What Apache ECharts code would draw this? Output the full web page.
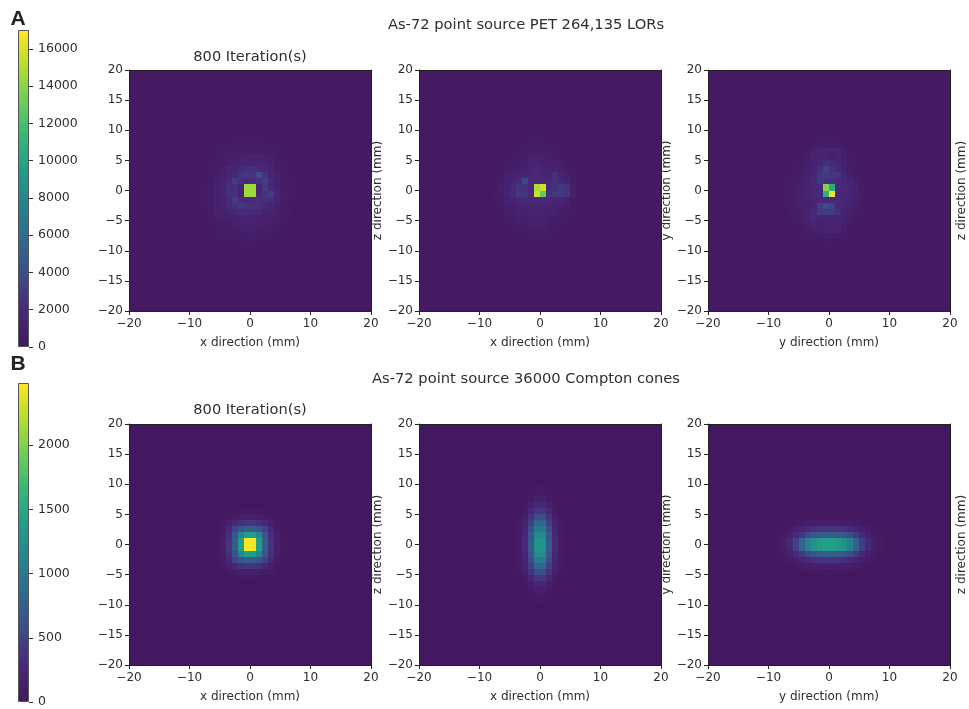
<!DOCTYPE html>
<html><head><meta charset="utf-8">
<style>html,body{margin:0;padding:0;background:#fff}#c{width:969px;height:709px}</style>
<script src="https://cdn.jsdelivr.net/npm/echarts@6/dist/echarts.min.js"></script>
</head><body><div id="c"></div>
<script>
const viridis=['#44175e','#482878','#3e4a89','#31688e','#26828e','#1f9e89','#35b779','#6ece58','#b5de2b','#fde725'];
const rangeA=[0,17020], rangeB=[0,2484];
const ticksA=[0,2000,4000,6000,8000,10000,12000,14000,16000];
const ticksB=[0,500,1000,1500,2000];
const backgroundA=280, backgroundB=20;
const titleA='As-72 point source PET 264,135 LORs';
const titleB='As-72 point source 36000 Compton cones';
const iterationTitle='800 Iteration(s)';

// central windows, top row first; everything outside them is the background value
const petXY=[
[280,300,280,290,320,280,340,300,380,430,360,420,380,300,290,280,300,280,280,280],
[290,280,320,340,290,400,430,510,440,600,440,560,450,390,340,290,320,280,290,280],
[280,310,360,300,460,510,660,600,650,560,760,660,610,500,660,400,300,320,280,280],
[300,290,350,460,500,560,700,760,800,750,700,760,860,650,600,450,410,300,310,280],
[310,360,400,500,610,700,800,960,1060,1160,1260,1360,1060,960,650,500,400,360,300,280],
[290,350,470,550,650,760,960,1260,1360,1460,1560,1660,1460,1060,760,550,470,350,320,280],
[320,360,450,610,750,960,1560,1660,1960,2360,2360,2060,1960,1460,860,650,450,400,300,290],
[300,400,470,650,860,1160,1460,1860,2560,2660,2560,3860,2560,1660,1060,760,510,400,320,280],
[360,410,500,660,960,1260,1760,2960,2460,1960,2160,2460,3160,1960,1060,760,560,410,300,290],
[350,420,510,700,1060,1460,2360,2260,1460,14500,14500,1460,2860,1760,1160,760,560,400,320,280],
[370,400,520,710,1060,1460,2460,2460,1460,14500,14500,1560,2560,3060,1360,860,560,420,300,290],
[310,410,500,760,1060,1260,1960,3060,2160,1960,2060,2160,2260,2160,1260,760,550,400,320,280],
[320,360,510,700,1060,1360,1860,2360,2860,2560,2460,2360,1960,1560,1060,760,500,420,300,280],
[290,360,500,750,1300,1160,1460,1660,1960,2060,1960,1760,1460,1260,960,700,510,360,320,280],
[300,350,460,660,860,960,1160,1260,1460,1360,1460,1260,1160,1060,860,650,460,360,290,290],
[280,320,400,500,660,760,860,1060,1260,1160,1260,1060,960,860,700,500,400,300,280,280],
[290,300,360,460,500,600,760,860,960,960,1060,860,760,700,550,460,350,310,290,280],
[280,290,300,350,460,510,550,660,700,760,700,660,600,500,450,360,300,280,280,280],
[280,300,310,290,350,400,450,500,550,500,560,500,450,400,350,290,310,280,280,280],
[280,280,290,310,280,350,340,400,390,450,400,350,340,300,290,280,290,280,280,280]];

const petXZ=[
[280,280,290,280,300,320,290,360,400,420,380,360,300,290,280,300,280,280,280,280],
[280,290,280,310,300,290,360,460,500,560,500,450,350,310,300,280,290,280,280,280],
[280,300,290,320,290,360,450,500,600,660,610,560,450,400,310,290,300,280,280,280],
[280,290,320,300,360,410,600,660,760,860,760,660,560,450,360,300,280,290,280,280],
[290,280,310,360,400,510,660,760,1060,1160,1060,860,760,560,400,350,300,290,280,280],
[280,320,300,400,500,660,760,960,1260,1360,1260,1060,960,760,500,400,310,280,290,280],
[300,310,360,450,660,810,960,1260,1460,1860,1460,1360,1260,1060,660,450,360,300,280,280],
[290,320,400,560,810,1060,1360,1660,1660,1760,1560,1560,2160,1460,960,560,400,320,290,280],
[320,360,460,760,1060,1460,1860,3560,1960,1660,1860,1960,2260,1960,1260,700,460,360,300,280],
[310,370,500,860,1260,1860,2560,2360,1860,14800,15800,2060,2460,2760,2560,960,500,360,310,280],
[320,360,510,860,1360,1960,2860,2760,2060,15800,12800,2160,2760,2860,2660,1060,510,370,300,290],
[300,370,460,760,1160,1460,1760,2060,1960,1860,1960,1860,1760,1660,1260,760,450,360,320,280],
[290,310,400,610,860,1160,1260,1460,1660,1460,1660,1460,1260,1160,860,560,400,310,290,280],
[280,320,360,500,760,860,1060,1060,1360,1460,1360,1060,1060,760,610,450,360,300,280,280],
[290,280,300,400,560,760,960,960,1260,1160,1260,960,760,660,500,400,310,290,280,280],
[280,290,310,360,450,560,760,860,1060,1060,1160,760,660,560,400,310,300,280,290,280],
[280,280,290,300,360,460,560,660,860,860,860,660,560,450,360,300,290,280,280,280],
[280,290,280,310,300,360,450,500,600,660,610,500,450,360,310,290,280,290,280,280],
[280,280,290,280,310,300,360,400,460,500,450,400,360,300,290,280,280,280,280,280],
[280,280,280,290,280,300,310,320,360,400,350,320,300,290,280,290,280,280,280,280]];

const petYZ=[
[280,280,290,280,300,310,300,360,400,460,400,360,350,310,280,290,280,280,280,280],
[280,290,280,300,310,290,360,460,560,610,560,450,400,310,300,290,280,280,280,280],
[290,280,300,310,290,360,450,610,760,760,810,660,500,400,310,290,300,280,280,280],
[280,300,290,310,360,450,610,1060,1460,1560,1460,1460,860,500,360,300,280,290,280,280],
[300,280,320,360,400,500,700,1360,1560,1460,960,1560,960,550,400,300,310,280,280,280],
[290,310,300,400,500,600,810,1460,1760,2160,1860,1660,1160,660,450,360,300,290,280,280],
[300,320,360,450,560,760,1060,1460,2160,3400,2460,1760,1260,760,500,360,310,280,290,280],
[280,310,360,500,660,860,1160,1660,2560,2860,2660,2660,1560,860,600,400,300,290,280,280],
[310,320,400,560,760,960,1260,1860,2860,2460,2260,1860,1660,1360,700,450,360,300,290,280],
[320,360,460,660,860,1160,1460,1760,1960,13800,10600,1860,1760,1460,1060,560,360,310,280,280],
[310,360,450,660,960,1260,1560,1760,1960,10800,16600,1960,1760,1560,1160,610,400,300,290,280],
[320,350,460,610,860,1160,1460,1660,1860,1860,1960,1860,1660,1460,960,560,360,310,280,280],
[290,320,400,610,760,1060,1260,1560,3060,3760,3260,1760,1560,1260,810,460,360,300,290,280],
[300,310,360,560,700,960,1360,1860,2960,2960,2860,2360,1460,960,660,400,310,290,280,280],
[280,320,360,460,660,960,1260,1860,1560,1560,1460,1460,1060,810,500,360,300,280,290,280],
[290,280,310,400,500,760,1060,1360,1260,1260,1360,1360,860,610,400,310,290,280,280,280],
[280,290,310,360,450,560,760,960,1060,1260,1360,1360,810,460,360,300,280,290,280,280],
[280,280,290,310,360,450,560,660,760,810,760,660,500,400,310,290,280,280,280,280],
[280,280,280,290,310,360,400,450,500,560,500,450,400,310,290,280,290,280,280,280],
[280,280,280,280,290,310,300,360,400,400,400,360,300,290,280,280,280,280,280,280]];

const comptonXY=[
[20,22,28,35,45,55,55,45,35,28,22,20],
[22,30,60,95,125,140,140,125,95,60,30,22],
[28,60,140,260,340,370,370,340,260,140,60,28],
[35,95,260,500,650,720,720,650,500,260,95,35],
[45,125,340,650,1130,1380,1380,1130,650,340,125,45],
[55,140,370,720,1380,2470,2470,1380,720,370,140,55],
[55,140,370,720,1380,2470,2470,1380,720,370,140,55],
[45,125,340,650,1130,1380,1380,1130,650,340,125,45],
[35,95,260,500,650,720,720,650,500,260,95,35],
[28,60,140,260,340,370,370,340,260,140,60,28],
[22,30,60,95,125,140,140,125,95,60,30,22],
[20,22,28,35,45,55,55,45,35,28,22,20]];

const comptonXZ=[
[20,20,22,30,45,45,30,22,20,20],
[20,22,28,50,85,85,50,28,22,20],
[20,24,40,90,150,150,90,40,24,20],
[22,30,65,150,250,250,150,65,30,22],
[24,40,100,240,400,400,240,100,40,24],
[28,55,140,350,590,590,350,140,55,28],
[30,70,190,470,810,810,470,190,70,30],
[32,85,230,580,1020,1020,580,230,85,32],
[35,95,260,660,1200,1200,660,260,95,35],
[36,100,270,700,1290,1290,700,270,100,36],
[36,100,270,700,1290,1290,700,270,100,36],
[35,95,260,660,1200,1200,660,260,95,35],
[32,85,230,580,1020,1020,580,230,85,32],
[30,70,190,470,810,810,470,190,70,30],
[28,55,140,350,590,590,350,140,55,28],
[24,40,100,240,400,400,240,100,40,24],
[22,30,65,150,250,250,150,65,30,22],
[20,24,40,90,150,150,90,40,24,20],
[20,22,28,50,85,85,50,28,22,20],
[20,20,22,30,45,45,30,22,20,20]];

const comptonYZ=[
[20,20,22,24,26,30,34,36,38,38,38,38,36,34,30,26,24,22,20,20],
[20,24,30,40,60,85,110,125,135,140,140,135,125,110,85,60,40,30,24,20],
[22,30,50,90,150,230,300,340,365,370,370,365,340,300,230,150,90,50,30,22],
[26,42,80,160,270,430,570,650,700,715,715,700,650,570,430,270,160,80,42,26],
[32,65,135,270,470,780,1080,1260,1360,1400,1400,1360,1260,1080,780,470,270,135,65,32],
[32,65,135,270,470,780,1080,1260,1360,1400,1400,1360,1260,1080,780,470,270,135,65,32],
[26,42,80,160,270,430,570,650,700,715,715,700,650,570,430,270,160,80,42,26],
[22,30,50,90,150,230,300,340,365,370,370,365,340,300,230,150,90,50,30,22],
[20,24,30,40,60,85,110,125,135,140,140,135,125,110,85,60,40,30,24,20],
[20,20,22,24,26,30,34,36,38,38,38,38,36,34,30,26,24,22,20,20]];

// one cell per millimetre bin: [left edge, lower edge, value]
function cells(rows,bg){
  const nr=rows.length,nc=rows[0].length,y0=20-nr/2,x0=20-nc/2,out=[];
  for(let y=0;y<40;y++)for(let x=0;x<40;x++){
    const inside=y>=y0&&y<y0+nr&&x>=x0&&x<x0+nc;
    out.push([x-20,y-20,inside?rows[nr-1-(y-y0)][x-x0]:bg]);
  }
  return out;
}

function drawCell(params,api){
  const x=api.value(0),y=api.value(1);
  const a=api.coord([x,y]),b=api.coord([x+1,y+1]);
  const x0=Math.round(a[0]),x1=Math.round(b[0]),y0=Math.round(a[1]),y1=Math.round(b[1]);
  return {type:'rect',shape:{x:x0,y:y1,width:x1-x0,height:y0-y1},style:{fill:api.visual('color')}};
}

const ink='#2e2e2e';
const font='"DejaVu Sans"';
const minus=v=>String(v).replace('-','\u2212');
const frame={lineStyle:{color:'#222',width:1}};
const nameStyle={color:ink,fontFamily:font,fontSize:12};
const grid=[],xAxis=[],yAxis=[],series=[];

function panel(left,top,rows,bg,xName,yName,rightName){
  const g=grid.length;
  grid.push({left,top,width:242,height:241});
  const xi=xAxis.length, yi=yAxis.length;
  xAxis.push({type:'value',gridIndex:g,min:-20,max:20,interval:10,position:'bottom',z:5,
    name:xName,nameLocation:'middle',nameGap:26,nameTextStyle:nameStyle,
    axisLine:{onZero:false,...frame},axisTick:{length:4,lineStyle:{color:'#222'}},splitLine:{show:false},
    axisLabel:{color:ink,fontFamily:font,fontSize:12,margin:7,formatter:minus,showMinLabel:true,showMaxLabel:true}});
  xAxis.push({type:'value',gridIndex:g,min:-20,max:20,interval:10,position:'top',z:5,
    axisLine:{onZero:false,...frame},axisTick:{show:false},axisLabel:{show:false},splitLine:{show:false}});
  yAxis.push({type:'value',gridIndex:g,min:-20,max:20,interval:5,position:'left',z:5,
    name:yName||'',nameLocation:'middle',nameGap:26,nameRotate:90,nameTextStyle:nameStyle,
    axisLine:{onZero:false,...frame},axisTick:{length:4,lineStyle:{color:'#222'}},splitLine:{show:false},
    axisLabel:{color:ink,fontFamily:font,fontSize:12,margin:6,formatter:minus,showMinLabel:true,showMaxLabel:true}});
  yAxis.push({type:'value',gridIndex:g,min:-20,max:20,interval:5,position:'right',z:5,
    name:rightName||'',nameLocation:'middle',nameGap:6,nameRotate:90,nameTextStyle:nameStyle,
    axisLine:{onZero:false,...frame},axisTick:{show:false},axisLabel:{show:false},splitLine:{show:false}});
  series.push({type:'custom',xAxisIndex:xi,yAxisIndex:yi,data:cells(rows,bg),renderItem:drawCell,
    encode:{x:0,y:1},silent:true,animation:false,progressive:0});
}

function colorbar(top,height,range,ticks){
  const g=grid.length;
  grid.push({left:18,top,width:11,height});
  xAxis.push({type:'category',gridIndex:g,data:[''],show:false});
  yAxis.push({type:'value',gridIndex:g,min:range[0],max:range[1],position:'right',z:5,
    axisLine:{show:false},splitLine:{show:false},
    axisTick:{show:true,length:4,customValues:ticks,lineStyle:{color:'#333'}},
    axisLabel:{color:ink,fontFamily:font,fontSize:12.5,margin:9,customValues:ticks,formatter:v=>String(v)}});
  const stops=viridis.map((c,i)=>({offset:i/(viridis.length-1),color:c}));
  series.push({type:'bar',xAxisIndex:xAxis.length-1,yAxisIndex:yAxis.length-1,barWidth:'100%',silent:true,
    data:[range[1]],animation:false,
    itemStyle:{borderColor:'#555',borderWidth:1,
      color:new echarts.graphic.LinearGradient(0,1,0,0,stops)}});
}

const xn='x direction (mm)',yn='y direction (mm)',zn='z direction (mm)';
panel(129,70,petXY,backgroundA,xn);
panel(419,70,petXZ,backgroundA,xn,zn);
panel(708,70,petYZ,backgroundA,yn,yn,zn);
panel(129,424,comptonXY,backgroundB,xn);
panel(419,424,comptonXZ,backgroundB,xn,zn);
panel(708,424,comptonYZ,backgroundB,yn,yn,zn);
colorbar(30,317,rangeA,ticksA);
colorbar(383,319,rangeB,ticksB);

const visualMap=[
 {show:false,seriesIndex:[0,1,2],dimension:2,min:rangeA[0],max:rangeA[1],inRange:{color:viridis}},
 {show:false,seriesIndex:[3,4,5],dimension:2,min:rangeB[0],max:rangeB[1],inRange:{color:viridis}}];

const tt=(text,left,top,o)=>({text,left,top,textAlign:'center',padding:0,
  textStyle:Object.assign({color:ink,fontFamily:font,fontSize:14.7,fontWeight:'normal'},o||{})});
const title=[
 tt(titleA,526,18),
 tt(titleB,526,372),
 tt(iterationTitle,250,50,{fontSize:14.6}),
 tt(iterationTitle,250,403,{fontSize:14.6}),
 tt('A',18,9,{fontFamily:'"Liberation Sans"',fontWeight:'bold',fontSize:21,color:'#222'}),
 tt('B',18,354,{fontFamily:'"Liberation Sans"',fontWeight:'bold',fontSize:21,color:'#222'})];

const chart=echarts.init(document.getElementById('c'),null,{renderer:'canvas'});
chart.setOption({animation:false,backgroundColor:'#fff',title,grid,xAxis,yAxis,visualMap,series});
</script></body></html>
